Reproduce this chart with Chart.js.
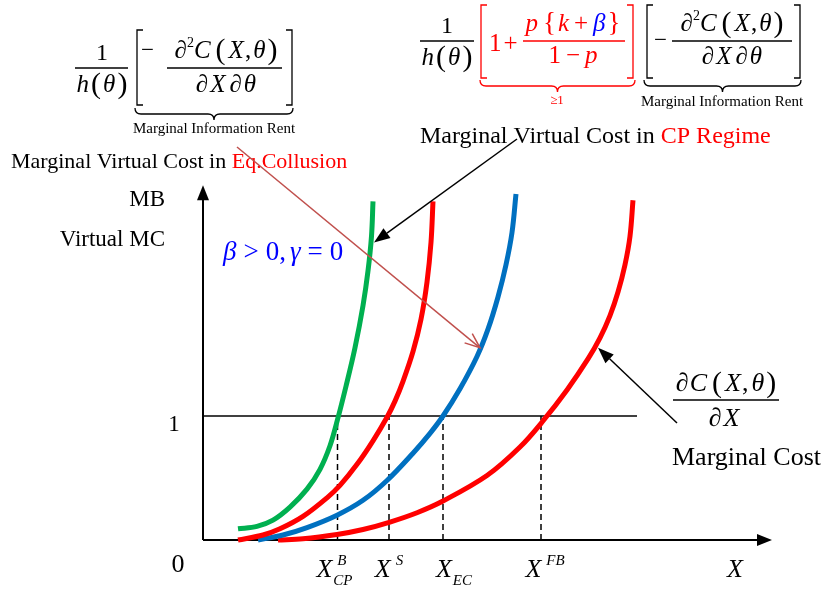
<!DOCTYPE html>
<html>
<head>
<meta charset="utf-8">
<script src="https://cdn.jsdelivr.net/npm/chart.js@4"></script>
<style>
  body { margin: 0; background: #fff; }
  canvas { display: block; }
</style>
</head>
<body>
<canvas id="diagram" width="822" height="592"></canvas>
<script>
// curves (x = quantity, y = marginal value, 1 = MB line)
const greenX = [0.35, 0.54, 0.70, 0.87, 1.04, 1.17, 1.27, 1.345, 1.43, 1.52, 1.60, 1.65, 1.685, 1.70];
const greenY = [0.09, 0.11, 0.16, 0.265, 0.41, 0.57, 0.76, 0.97, 1.24, 1.55, 1.89, 2.17, 2.45, 2.73];

const cpX = [0.35, 0.60, 0.77, 1.00, 1.24, 1.37, 1.54, 1.70, 1.84, 1.92, 2.00, 2.10, 2.18, 2.24, 2.28, 2.30];
const cpY = [0.00, 0.04, 0.09, 0.19, 0.34, 0.44, 0.61, 0.80, 0.99, 1.12, 1.28, 1.52, 1.78, 2.08, 2.40, 2.73];

const ecX = [0.55, 0.80, 1.04, 1.34, 1.60, 1.84, 2.10, 2.27, 2.40, 2.57, 2.74, 2.85, 2.95, 3.03, 3.09, 3.13];
const ecY = [0.00, 0.04, 0.10, 0.20, 0.32, 0.48, 0.70, 0.86, 1.00, 1.22, 1.48, 1.70, 1.96, 2.22, 2.48, 2.79];

const mcX = [0.75, 1.00, 1.34, 1.60, 1.87, 2.14, 2.39, 2.84, 3.17, 3.40, 3.64, 3.85, 3.97, 4.07, 4.15, 4.22, 4.27, 4.30];
const mcY = [0.00, 0.01, 0.045, 0.085, 0.145, 0.22, 0.31, 0.52, 0.75, 0.96, 1.21, 1.46, 1.63, 1.81, 2.00, 2.22, 2.45, 2.74];

const mbLevel = 1;
const mbLineEnd = 4.34;
const cutX = [1.345, 1.86, 2.40, 3.38];     // X^B_CP, X^S, X_EC, X^FB
const cutLabels = [['B', 'CP'], ['S', ''], ['', 'EC'], ['FB', '']];
const axisTopY = 2.86;
const axisEndX = 5.69;

const SERIF = '"Liberation Serif", "Times New Roman", serif';
const f = (size, italic) => (italic ? 'italic ' : '') + size + 'px ' + SERIF;
const pts = (xs, ys) => xs.map((x, i) => ({ x: x, y: ys[i] }));

function curve(xs, ys, color) {
  return {
    data: pts(xs, ys), showLine: true, borderColor: color, borderWidth: 5,
    pointRadius: 0, tension: 0.35, fill: false, clip: false
  };
}
function straight(data, width, dash) {
  return {
    data: data, showLine: true, borderColor: '#000', borderWidth: width,
    borderDash: dash || [], pointRadius: 0, fill: false, clip: false
  };
}

// text made of several pieces: [text, font, color, dy, gapAfter]
function run(ctx, parts, x, y, align) {
  let w = 0;
  parts.forEach(p => { ctx.font = p[1]; w += ctx.measureText(p[0]).width + (p[4] || 0); });
  let cx = align === 'center' ? x - w / 2 : (align === 'right' ? x - w : x);
  ctx.textAlign = 'left';
  ctx.textBaseline = 'alphabetic';
  parts.forEach(p => {
    ctx.font = p[1];
    ctx.fillStyle = p[2] || '#000';
    ctx.fillText(p[0], cx, y + (p[3] || 0));
    cx += ctx.measureText(p[0]).width + (p[4] || 0);
  });
}

function line(ctx, x1, y1, x2, y2, color, w) {
  ctx.strokeStyle = color; ctx.lineWidth = w || 1.3;
  ctx.beginPath(); ctx.moveTo(x1, y1); ctx.lineTo(x2, y2); ctx.stroke();
}

function bracket(ctx, x, y1, y2, dir, color) {
  ctx.strokeStyle = color; ctx.lineWidth = 1.3;
  ctx.beginPath();
  ctx.moveTo(x + dir * 6, y1); ctx.lineTo(x, y1); ctx.lineTo(x, y2); ctx.lineTo(x + dir * 6, y2);
  ctx.stroke();
}

function brace(ctx, x1, x2, y, h, color) {
  const m = (x1 + x2) / 2, r = h / 2;
  ctx.strokeStyle = color; ctx.lineWidth = 1.3;
  ctx.beginPath();
  ctx.moveTo(x1, y);
  ctx.quadraticCurveTo(x1, y + r, x1 + r, y + r);
  ctx.lineTo(m - r, y + r);
  ctx.quadraticCurveTo(m, y + r, m, y + h);
  ctx.quadraticCurveTo(m, y + r, m + r, y + r);
  ctx.lineTo(x2 - r, y + r);
  ctx.quadraticCurveTo(x2, y + r, x2, y);
  ctx.stroke();
}

function arrow(ctx, x1, y1, x2, y2, color, open, len, wid) {
  const a = Math.atan2(y2 - y1, x2 - x1);
  len = len || 15; wid = wid || 6;
  const bx = x2 - len * Math.cos(a), by = y2 - len * Math.sin(a);
  const px = -Math.sin(a) * wid, py = Math.cos(a) * wid;
  if (open) {
    line(ctx, x1, y1, x2, y2, color, 1.5);
    ctx.beginPath(); ctx.moveTo(bx + px, by + py); ctx.lineTo(x2, y2); ctx.lineTo(bx - px, by - py); ctx.stroke();
  } else {
    line(ctx, x1, y1, bx, by, color, 1.5);
    ctx.fillStyle = color;
    ctx.beginPath(); ctx.moveTo(x2, y2); ctx.lineTo(bx + px, by + py); ctx.lineTo(bx - px, by - py); ctx.closePath(); ctx.fill();
  }
}

function xLabel(ctx, cx, sup, sub) {
  ctx.font = f(26, true); const wX = ctx.measureText('X').width;
  ctx.font = f(15, true);
  const wSup = sup ? ctx.measureText(sup).width + 5 : 0;
  const wSub = sub ? ctx.measureText(sub).width + 1 : 0;
  const x0 = cx - (wX + Math.max(wSup, wSub)) / 2;
  ctx.fillStyle = '#000';
  ctx.font = f(26, true); ctx.fillText('X', x0, 577);
  ctx.font = f(15, true);
  if (sup) ctx.fillText(sup, x0 + wX + 5, 565);
  if (sub) ctx.fillText(sub, x0 + wX + 1, 585);
}

// -∂²C(X,θ) / ∂X∂θ fraction
function rentFraction(ctx, cx, numY, barY, denY, barX1, barX2) {
  const it = f(25, true), rg = f(25, false), par = f(30, false);
  run(ctx, [['\u2202', it], ['2', f(14, false), '#000', -11], ['C', it, '#000', 0, 5], ['(', par, '#000', 1, 3],
            ['X', it, '#000', 0, 1], [',', rg, '#000', 0, 2], ['\u03b8', it, '#000', 0, 2], [')', par, '#000', 1]], cx, numY, 'center');
  line(ctx, barX1, barY, barX2, barY, '#000');
  run(ctx, [['\u2202', it, '#000', 0, 2], ['X', it, '#000', 0, 4], ['\u2202', it, '#000', 0, 2], ['\u03b8', it]], cx, denY, 'center');
}

function hFraction(ctx, cx, numY, barY, denY, barX1, barX2) {
  run(ctx, [['1', f(24, false)]], cx, numY, 'center');
  line(ctx, barX1, barY, barX2, barY, '#000');
  run(ctx, [['h', f(25, true), '#000', 0, 2], ['(', f(30, false), '#000', 1, 2], ['\u03b8', f(25, true), '#000', 0, 2], [')', f(30, false), '#000', 1]], cx, denY, 'center');
}

const overlay = {
  id: 'overlay',
  afterDatasetsDraw(chart) {
    const ctx = chart.ctx;
    const sx = chart.scales.x, sy = chart.scales.y;
    const X = v => sx.getPixelForValue(v), Y = v => sy.getPixelForValue(v);
    ctx.save();

    // axis arrowheads
    arrow(ctx, X(0), Y(axisTopY - 0.2), X(0), Y(axisTopY), '#000', false, 15, 6);
    arrow(ctx, X(axisEndX - 0.2), Y(0), X(axisEndX), Y(0), '#000', false, 15, 6);

    // axis texts
    run(ctx, [['1', f(23, false)]], X(0) - 29, Y(mbLevel) + 15, 'center');
    run(ctx, [['0', f(26, false)]], X(0) - 25, Y(0) + 32, 'center');
    run(ctx, [['X', f(26, true)]], X(axisEndX) - 45, Y(0) + 37, 'left');
    run(ctx, [['MB', f(23, false)]], 165, 206, 'right');
    run(ctx, [['Virtual MC', f(23, false)]], 165, 246, 'right');
    const offs = [-3, 0, 11, 4];
    cutX.forEach((v, i) => xLabel(ctx, X(v) + offs[i], cutLabels[i][0], cutLabels[i][1]));

    // beta/gamma condition
    const blue = '#0000ff';
    run(ctx, [['\u03b2', f(27, true), blue, 0, 7], ['>', f(27, false), blue, 0, 7], ['0,', f(27, false), blue, 0, 4],
              ['\u03b3', f(27, true), blue, 0, 7], ['=', f(27, false), blue, 0, 7], ['0', f(27, false), blue]], 223, 260, 'left');

    // top-left formula: information rent
    hFraction(ctx, 102, 60, 68, 92, 75, 128);
    bracket(ctx, 137, 30, 105, 1, '#000');
    bracket(ctx, 292, 30, 105, -1, '#000');
    run(ctx, [['\u2212', f(23, false)]], 141, 57, 'left');
    rentFraction(ctx, 226, 58, 68, 92, 167, 282);
    brace(ctx, 135, 293, 108, 12, '#000');
    run(ctx, [['Marginal Information Rent', f(15, false)]], 214, 133, 'center');

    // top-right formula: CP regime virtual cost
    hFraction(ctx, 447, 33, 41, 65, 420, 474);
    const red = '#ff0000';
    bracket(ctx, 481, 5, 78, 1, red);
    bracket(ctx, 633, 5, 78, -1, red);
    run(ctx, [['1', f(25, false), red, 0, 2], ['+', f(25, false), red]], 489, 51, 'left');
    run(ctx, [['p', f(25, true), red, 0, 5], ['{', f(27, false), red, 0, 2], ['k', f(25, true), red, 0, 5], ['+', f(25, false), red, 0, 5],
              ['\u03b2', f(25, true), blue, 0, 2], ['}', f(27, false), red]], 573, 31, 'center');
    line(ctx, 523, 41, 625, 41, red);
    run(ctx, [['1', f(25, false), red, 0, 5], ['\u2212', f(25, false), red, 0, 5], ['p', f(25, true), red]], 573, 63, 'center');
    brace(ctx, 480, 635, 80, 12, red);
    run(ctx, [['\u22651', f(13, false), red]], 557, 104, 'center');

    bracket(ctx, 647, 5, 78, 1, '#000');
    bracket(ctx, 800, 5, 78, -1, '#000');
    run(ctx, [['\u2212', f(23, false)]], 654, 47, 'left');
    rentFraction(ctx, 732, 31, 41, 64, 672, 792);
    brace(ctx, 644, 801, 80, 12, '#000');
    run(ctx, [['Marginal Information Rent', f(15, false)]], 722, 106, 'center');

    // curve captions
    run(ctx, [['Marginal Virtual Cost in ', f(24, false)], ['CP Regime', f(24, false), red]], 420, 143, 'left');
    run(ctx, [['Marginal Virtual Cost in ', f(22, false)], ['Eq.Collusion', f(22, false), red]], 11, 168, 'left');

    // marginal cost label
    run(ctx, [['\u2202', f(26, true), '#000', 0, 1], ['C', f(26, true), '#000', 0, 5], ['(', f(30, false), '#000', 1, 3], ['X', f(26, true), '#000', 0, 1],
              [',', f(26, false), '#000', 0, 3], ['\u03b8', f(26, true), '#000', 0, 2], [')', f(30, false), '#000', 1]], 726, 391, 'center');
    line(ctx, 673, 400, 779, 400, '#000');
    run(ctx, [['\u2202', f(26, true), '#000', 0, 2], ['X', f(26, true)]], 724, 426, 'center');
    run(ctx, [['Marginal Cost', f(26, false)]], 672, 465, 'left');

    // pointer arrows
    arrow(ctx, 517, 139, X(1.71), Y(2.40), '#000', false, 16, 6);
    arrow(ctx, 677, 423, X(3.95), Y(1.55), '#000', false, 16, 6);
    arrow(ctx, 237, 147, X(2.77), Y(1.55), '#c0504d', true, 15, 6);

    ctx.restore();
  }
};

const datasets = [
  curve(greenX, greenY, '#00b050'),
  curve(cpX, cpY, '#ff0000'),
  curve(ecX, ecY, '#0070c0'),
  curve(mcX, mcY, '#ff0000'),
  straight([{ x: 0, y: mbLevel }, { x: mbLineEnd, y: mbLevel }], 1.5)
];
cutX.forEach(v => datasets.push(straight([{ x: v, y: 0 }, { x: v, y: mbLevel }], 1.5, [6, 4])));
datasets.push(straight([{ x: 0, y: 0 }, { x: 0, y: axisTopY - 0.1 }], 2));
datasets.push(straight([{ x: 0, y: 0 }, { x: axisEndX - 0.1, y: 0 }], 2));

new Chart(document.getElementById('diagram').getContext('2d'), {
  type: 'scatter',
  data: { datasets: datasets },
  options: {
    responsive: false,
    animation: false,
    layout: { padding: { left: 203, right: 19, top: 168, bottom: 52 } },
    scales: {
      x: { type: 'linear', min: 0, max: 6, display: false },
      y: { type: 'linear', min: 0, max: 3, display: false }
    },
    plugins: { legend: { display: false }, tooltip: { enabled: false } }
  },
  plugins: [overlay]
});
</script>
</body>
</html>
